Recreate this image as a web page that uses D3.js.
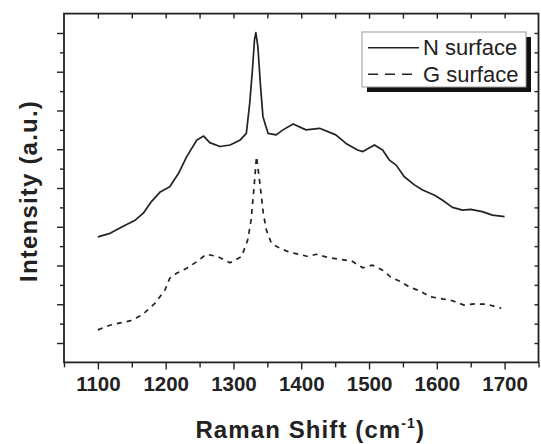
<!DOCTYPE html>
<html><head><meta charset="utf-8">
<script src="https://cdn.jsdelivr.net/npm/d3@7"></script>
<style>body{margin:0;background:#fff}svg{display:block}text{font-family:"Liberation Sans",Arial,sans-serif;fill:#222}</style>
</head><body><svg id="c" width="541" height="444"></svg>
<script>
// Raman shift (cm^-1) and intensity (a.u.)
const nShift = [1100,1118,1138,1155,1167,1179,1192,1206,1219,1231,1246,1256,1265,1280,1295,1310,1319,1324,1328,1331,1333,1336,1340,1343.5,1351,1363,1373,1388,1407,1427,1451,1466,1483,1491,1508,1520,1530,1540,1552,1567,1579,1596,1608,1623,1638,1650,1667,1682,1700];
const nIntensity = [2.74,2.83,3.02,3.17,3.35,3.65,3.90,4.03,4.38,4.81,5.24,5.34,5.17,5.07,5.11,5.24,5.41,6.19,7.05,7.82,8.01,7.65,6.61,5.84,5.41,5.37,5.50,5.65,5.50,5.54,5.37,5.15,4.98,4.94,5.11,4.98,4.72,4.59,4.29,4.08,3.95,3.82,3.69,3.50,3.43,3.45,3.39,3.30,3.26];
const gShift = [1100,1118,1133,1147,1165,1184,1199,1206,1216,1231,1246,1260,1277,1295,1312,1321,1326,1330,1334,1339,1344,1348.5,1356,1368,1383,1397,1410,1422,1439,1456,1474,1491,1505,1520,1532,1547,1559,1574,1591,1608,1623,1640,1657,1674,1690,1695];
const gIntensity = [0.34,0.46,0.52,0.57,0.72,1.02,1.37,1.67,1.80,1.93,2.10,2.29,2.23,2.07,2.23,2.66,3.17,3.95,4.81,4.12,3.35,2.92,2.57,2.45,2.34,2.29,2.23,2.29,2.21,2.16,2.12,1.94,2.01,1.88,1.70,1.58,1.45,1.35,1.19,1.14,1.09,0.98,1.01,1.00,0.92,0.90];
const xTickLabels = [1100,1200,1300,1400,1500,1600,1700];
const seriesNames = ["N surface","G surface"];

const svg = d3.select("#c");
const L=64, R=538.5, T=13.6, B=362.4;
const x = d3.scaleLinear().domain([1050,1750]).range([L,R]);
const y = d3.scaleLinear().domain([-0.5,8.5]).range([B,T]);
const ink="#222";

const xMinor = d3.range(1050,1751,50).filter(v=>!xTickLabels.includes(v));
const yMajor = d3.range(0,9,1);
const yMinor = d3.range(-0.5,8.6,1);

// bottom axis
const bottom = svg.append("g").attr("transform",`translate(0,${B})`)
  .call(d3.axisBottom(x).tickValues(xTickLabels).tickFormat(d3.format("d")).tickSize(7).tickPadding(7).tickSizeOuter(0));
svg.append("g").attr("transform",`translate(0,${B})`)
  .call(d3.axisBottom(x).tickValues(xMinor).tickFormat("").tickSize(5).tickSizeOuter(0));
// top axis (inward)
svg.append("g").attr("transform",`translate(0,${T})`)
  .call(d3.axisBottom(x).tickValues(d3.range(1100,1701,50)).tickFormat("").tickSize(5).tickSizeOuter(0));
// left axis
svg.append("g").attr("transform",`translate(${L},0)`)
  .call(d3.axisLeft(y).tickValues(yMajor).tickFormat("").tickSize(7).tickSizeOuter(0));
svg.append("g").attr("transform",`translate(${L},0)`)
  .call(d3.axisLeft(y).tickValues(yMinor.filter(v=>v>-0.5&&v<8.5)).tickFormat("").tickSize(4).tickSizeOuter(0));
// right axis (inward)
svg.append("g").attr("transform",`translate(${R},0)`)
  .call(d3.axisLeft(y).tickValues(d3.range(0,8.6,0.5).filter(v=>v<8.5)).tickFormat("").tickSize(4).tickSizeOuter(0));
svg.selectAll(".domain").remove();
svg.selectAll(".tick line").attr("stroke",ink).attr("stroke-width",1.4);
bottom.selectAll(".tick text").attr("fill",ink)
  .style("font-family","'Liberation Sans',Arial,sans-serif").style("font-size","20.5px").style("font-weight","bold");

// frame
svg.append("rect").attr("x",L).attr("y",T).attr("width",R-L).attr("height",B-T)
  .attr("fill","none").attr("stroke",ink).attr("stroke-width",1.8);

// lines
const line = d3.line().x(d=>x(d[0])).y(d=>y(d[1]));
svg.append("path").datum(d3.zip(nShift,nIntensity)).attr("d",line)
  .attr("fill","none").attr("stroke",ink).attr("stroke-width",1.7).attr("stroke-linejoin","round");
svg.append("path").datum(d3.zip(gShift,gIntensity)).attr("d",line)
  .attr("fill","none").attr("stroke",ink).attr("stroke-width",1.7).attr("stroke-dasharray","5,5");

// legend
const lg = svg.append("g");
lg.append("rect").attr("x",367).attr("y",37).attr("width",164).attr("height",55).attr("fill","#111");
lg.append("rect").attr("x",362).attr("y",32).attr("width",164).attr("height",55).attr("fill","#fff").attr("stroke","#999").attr("stroke-width",1);
seriesNames.forEach((n,i)=>{
  const yy = 47.7 + i*26.6;
  lg.append("line").attr("x1",368).attr("x2",419).attr("y1",yy).attr("y2",yy)
    .attr("stroke",ink).attr("stroke-width",1.6).attr("stroke-dasharray", i? "10,7":null);
  lg.append("text").attr("x",423).attr("y",yy+7.5).attr("font-size",22).text(n);
});

// axis titles
const xt = svg.append("text").attr("x",(L+R)/2+9).attr("y",438).attr("text-anchor","middle")
  .attr("font-size",24).attr("font-weight","bold").attr("letter-spacing",1.1);
xt.append("tspan").text("Raman Shift (cm");
xt.append("tspan").attr("font-size",14).attr("dy",-10).text("-1");
xt.append("tspan").attr("dy",10).text(")");
svg.append("text").attr("transform","translate(37,191) rotate(-90)").attr("text-anchor","middle")
  .attr("font-size",24).attr("font-weight","bold").attr("letter-spacing",1.2).text("Intensity (a.u.)");
</script></body></html>
